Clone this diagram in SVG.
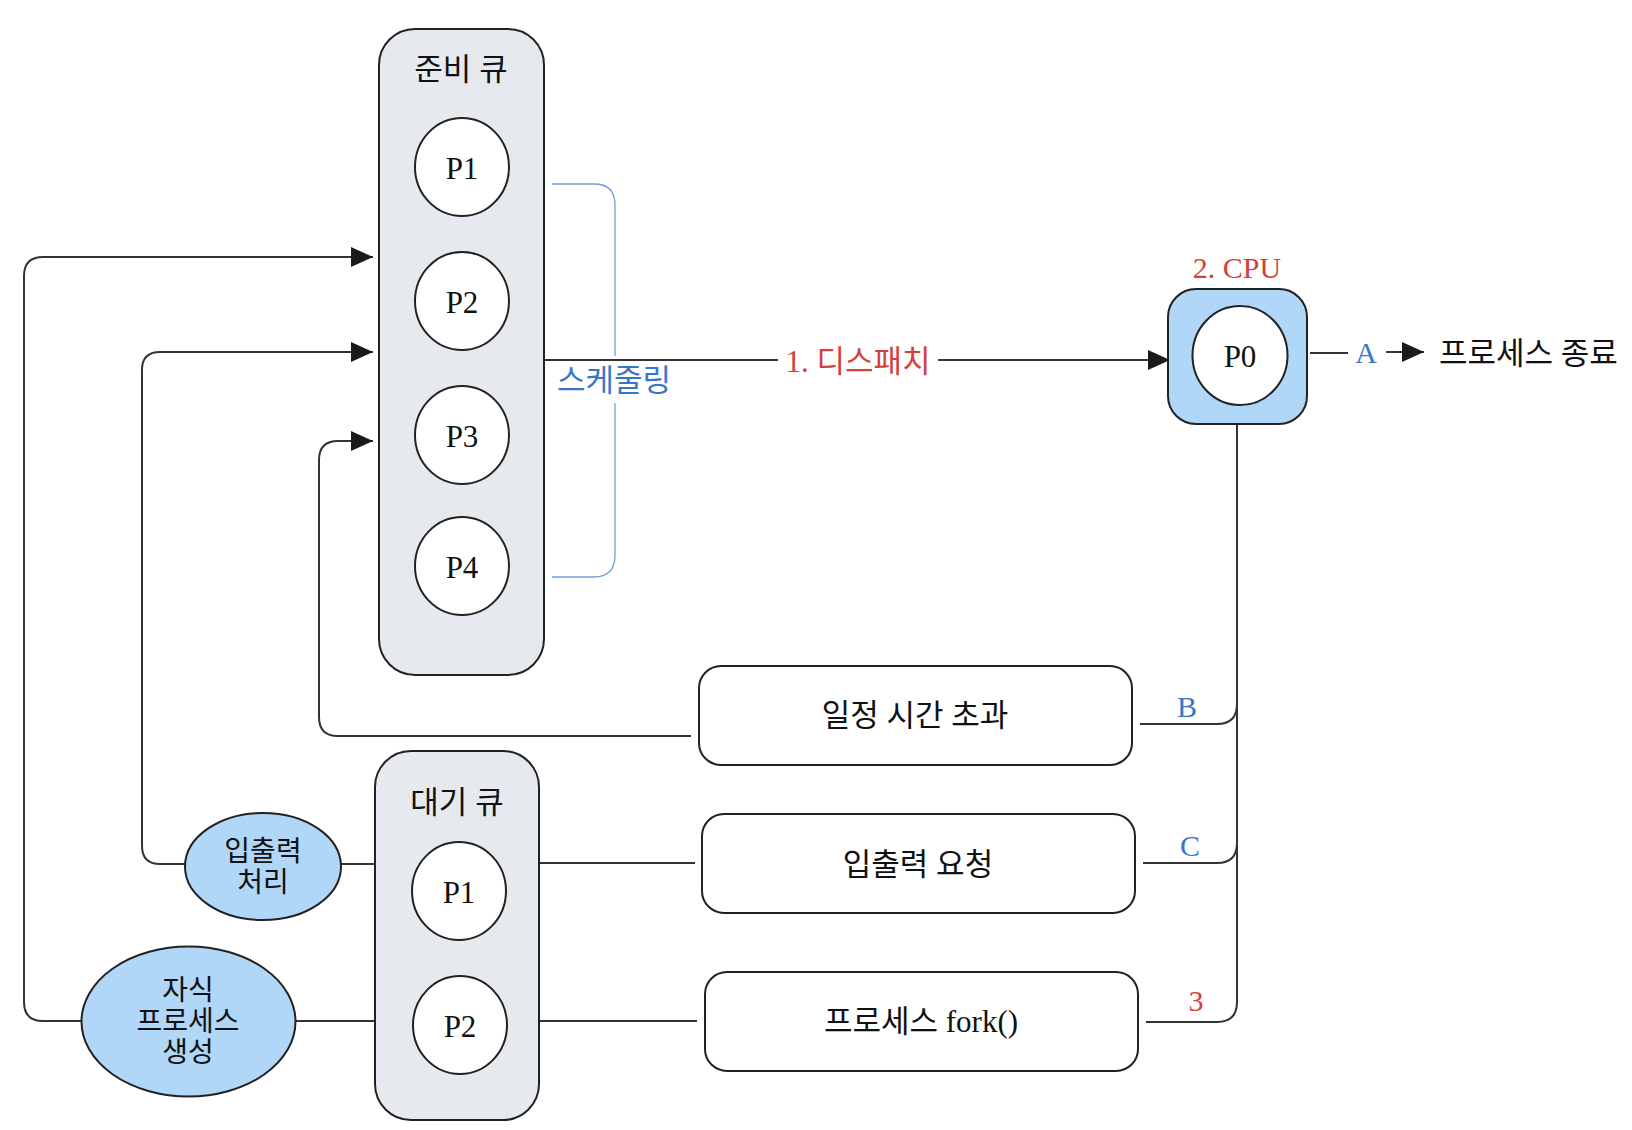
<svg xmlns="http://www.w3.org/2000/svg" width="1632" height="1130" viewBox="0 0 1632 1130">
<style>
text{font-family:"Liberation Serif","Noto Sans CJK KR",serif;font-size:31px;fill:#111;text-anchor:middle;dominant-baseline:central}
.p{font-size:31px}
.lat{font-size:30px}
.ml{font-size:28px}
.red{fill:#d4403a}
.blue{fill:#3a76c6}
.queue{fill:#e6eaee;stroke:#222;stroke-width:2}
.proc{fill:#fff;stroke:#222;stroke-width:2}
.hl{fill:#b0d6f8;stroke:#222;stroke-width:2}
.box{fill:#fff;stroke:#222;stroke-width:2}
.ln{fill:none;stroke:#333;stroke-width:2}
.br{fill:none;stroke:#6fa0d8;stroke-width:1.3}
</style>
<defs>
<marker id="arr" markerUnits="userSpaceOnUse" markerWidth="22" markerHeight="20" refX="22" refY="10" orient="auto">
<path d="M0,0 L22,10 L0,20 z" fill="#1a1a1a"/>
</marker>
</defs>
<rect width="1632" height="1130" fill="#fff"/>

<g id="connectors">
<path class="ln" d="M544,360 H778"/>
<path class="ln" d="M938,360 H1170" marker-end="url(#arr)"/>
<path class="br" d="M552,184 H594 Q615,184 615,205 V356"/>
<path class="br" d="M615,403 V555 Q615,577 594,577 H552"/>
<path class="ln" d="M1310,353 H1348"/>
<path class="ln" d="M1386,352 H1424" marker-end="url(#arr)"/>
<path class="ln" d="M1237,424 V1002 Q1237,1022 1217,1022 H1146"/>
<path class="ln" d="M1237,704 Q1237,724 1217,724 H1140"/>
<path class="ln" d="M1237,843 Q1237,863 1217,863 H1143"/>
<path class="ln" d="M691,736 H338 Q319,736 319,717 V460 Q319,441 338,441 H373" marker-end="url(#arr)"/>
<path class="ln" d="M185,864 H160 Q142,864 142,846 V370 Q142,352 160,352 H373" marker-end="url(#arr)"/>
<path class="ln" d="M82,1021 H43 Q24,1021 24,1002 V276 Q24,257 43,257 H373" marker-end="url(#arr)"/>
<path class="ln" d="M341,864 H375"/>
<path class="ln" d="M539,863 H695"/>
<path class="ln" d="M295,1021 H375"/>
<path class="ln" d="M539,1021 H697"/>
<text class="red" x="858" y="361">1. 디스패치</text>
<text class="blue" x="614" y="380">스케줄링</text>
<text class="blue lat" x="1366" y="352">A</text>
<text class="blue lat" x="1187" y="706">B</text>
<text class="blue lat" x="1190" y="845">C</text>
<text class="red lat" x="1196" y="1000">3</text>
</g>

<g id="ready-queue">
<rect class="queue" x="379" y="29" width="165" height="646" rx="36"/>
<text x="461" y="69">준비 큐</text>
</g>
<g id="rq-p1"><ellipse class="proc" cx="462" cy="167" rx="47" ry="49"/><text class="p" x="462" y="168">P1</text></g>
<g id="rq-p2"><ellipse class="proc" cx="462" cy="301" rx="47" ry="49"/><text class="p" x="462" y="302">P2</text></g>
<g id="rq-p3"><ellipse class="proc" cx="462" cy="435" rx="47" ry="49"/><text class="p" x="462" y="436">P3</text></g>
<g id="rq-p4"><ellipse class="proc" cx="462" cy="566" rx="47" ry="49"/><text class="p" x="462" y="567">P4</text></g>

<g id="cpu">
<rect class="hl" x="1168" y="289" width="139" height="135" rx="28"/>
<text class="red lat" x="1237" y="267">2. CPU</text>
</g>
<g id="cpu-p0"><ellipse class="proc" cx="1240" cy="355.5" rx="47.5" ry="49.5"/><text class="p" x="1240" y="356">P0</text></g>

<g id="terminate"><text x="1439" y="353" style="text-anchor:start">프로세스 종료</text></g>

<g id="timeout">
<rect class="box" x="699" y="666" width="433" height="99" rx="22"/>
<text x="915" y="715">일정 시간 초과</text>
</g>
<g id="io-request">
<rect class="box" x="702" y="814" width="433" height="99" rx="22"/>
<text x="918" y="864">입출력 요청</text>
</g>
<g id="fork">
<rect class="box" x="705" y="972" width="433" height="99" rx="22"/>
<text x="921" y="1021">프로세스 fork()</text>
</g>

<g id="wait-queue">
<rect class="queue" x="375" y="751" width="164" height="369" rx="36"/>
<text x="457" y="802">대기 큐</text>
</g>
<g id="wq-p1"><ellipse class="proc" cx="459" cy="891" rx="47" ry="49"/><text class="p" x="459" y="892">P1</text></g>
<g id="wq-p2"><ellipse class="proc" cx="460" cy="1025" rx="47" ry="49"/><text class="p" x="460" y="1026">P2</text></g>

<g id="io-handling">
<ellipse class="hl" cx="263" cy="866.5" rx="78" ry="53.5"/>
<text class="ml" x="263" y="851">입출력</text>
<text class="ml" x="263" y="882">처리</text>
</g>
<g id="child-create">
<ellipse class="hl" cx="188.5" cy="1021.5" rx="107" ry="75"/>
<text class="ml" x="188" y="990">자식</text>
<text class="ml" x="188" y="1021">프로세스</text>
<text class="ml" x="188" y="1052">생성</text>
</g>
</svg>
